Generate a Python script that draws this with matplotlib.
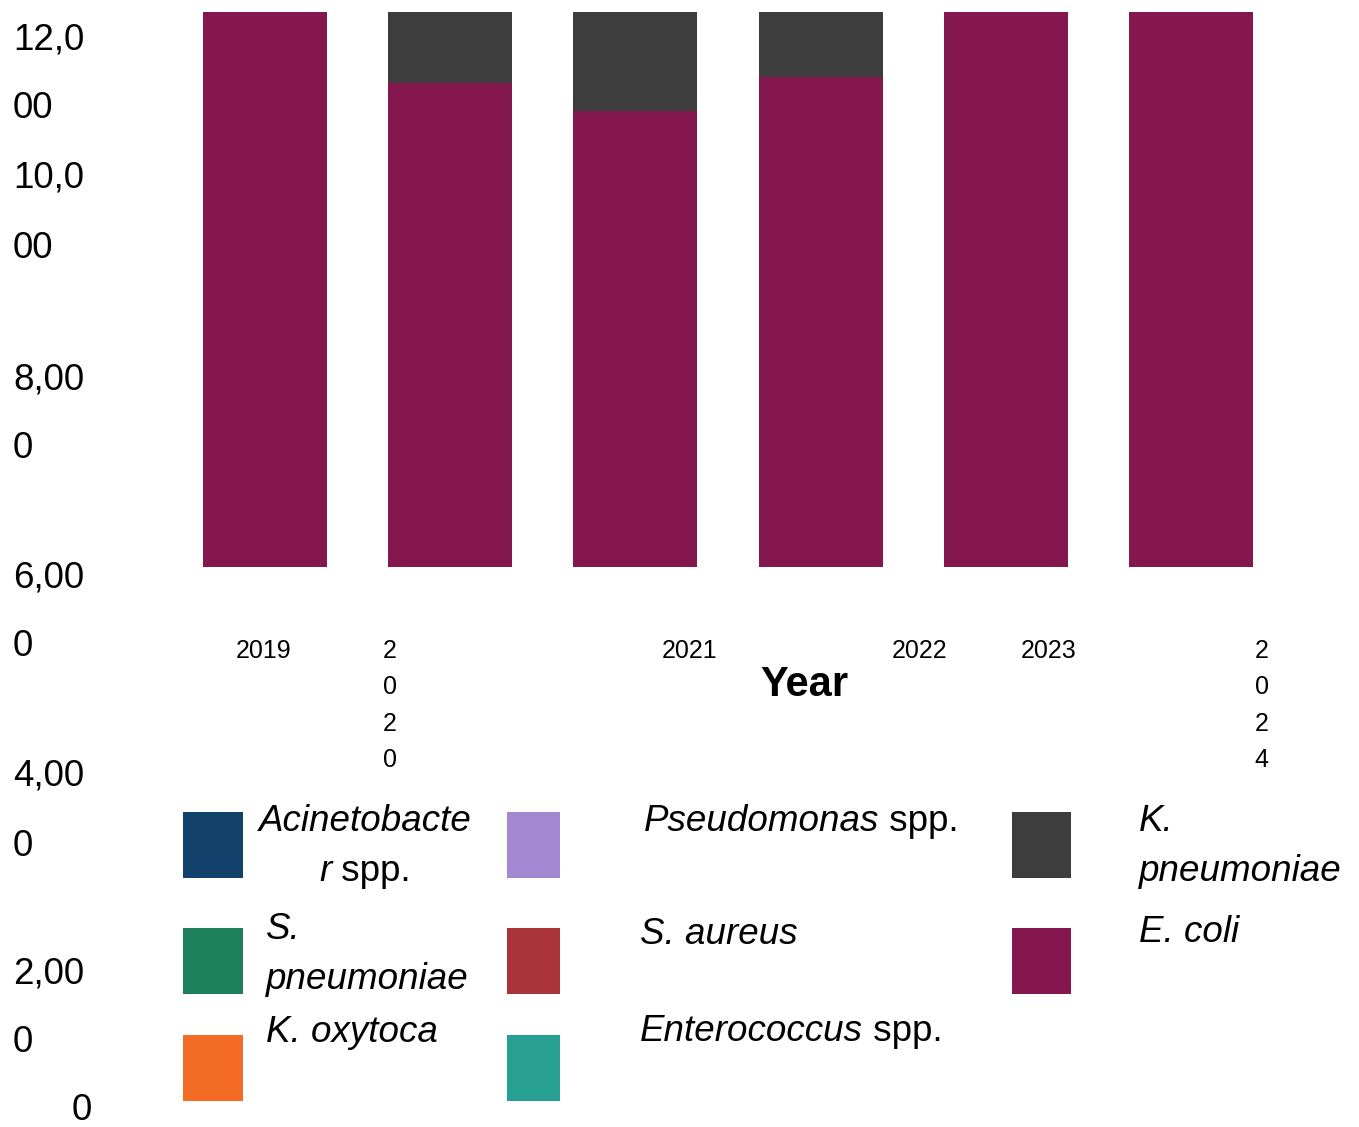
import numpy as np
import matplotlib
matplotlib.use('Agg')
import matplotlib.pyplot as plt
from matplotlib.patches import Rectangle

plt.rcParams['font.family'] = ['Liberation Sans', 'DejaVu Sans']

# data
years = ['2019', '2020', '2021', '2022', '2023', '2024']
e_coli = [12600, 10465, 9860, 10595, 12600, 12600]
k_pneumoniae = [1500, 2100, 2700, 1900, 1400, 1300]
acinetobacter = [0, 0, 0, 0, 0, 0]
pseudomonas = [0, 0, 0, 0, 0, 0]
s_pneumoniae = [0, 0, 0, 0, 0, 0]
s_aureus = [0, 0, 0, 0, 0, 0]
k_oxytoca = [0, 0, 0, 0, 0, 0]
enterococcus = [0, 0, 0, 0, 0, 0]

ytick_values = [12000, 10000, 8000, 6000, 4000, 2000, 0]

# legend order (column by column): wrapped label lines as (text, style) parts, colour, series
legend_items = [
    ([[('Acinetobacte', 'italic')], [('r', 'italic'), (' spp.', 'normal')]], '#12416b', acinetobacter),
    ([[('S.', 'italic')], [('pneumoniae', 'italic')]], '#1e7f5c', s_pneumoniae),
    ([[('K. oxytoca', 'italic')]], '#f46b25', k_oxytoca),
    ([[('Pseudomonas', 'italic'), (' spp.', 'normal')]], '#a387d0', pseudomonas),
    ([[('S. aureus', 'italic')]], '#ab343a', s_aureus),
    ([[('Enterococcus', 'italic'), (' spp.', 'normal')]], '#279f93', enterococcus),
    ([[('K.', 'italic')], [('pneumoniae', 'italic')]], '#3d3d3d', k_pneumoniae),
    ([[('E. coli', 'italic')]], '#83174e', e_coli),
]

W, H = 1359, 1127
fig = plt.figure(figsize=(W / 100, H / 100), dpi=100)

# bars (top is cut off by the axes, as in the original)
ax = fig.add_axes([203 / W, 1 - 567 / H, 1050 / W, 555 / H])
x = np.arange(len(years))
bottom = np.zeros(len(years))
stack = [7, 6, 0, 3, 1, 4, 2, 5]
for i in stack:
    vals = np.array(legend_items[i][2], dtype=float)
    ax.bar(x, vals, 0.67, bottom=bottom, color=legend_items[i][1], linewidth=0)
    bottom += vals
ax.set_xlim(-0.335, len(years) - 1 + 0.335)
ax.set_ylim(0, 12000)
ax.axis('off')

# overlay in pixel coordinates for the broken-up labels and legend
ov = fig.add_axes([0, 0, 1, 1])
ov.set_xlim(0, W)
ov.set_ylim(H, 0)
ov.axis('off')
renderer = fig.canvas.get_renderer()


def rich(x0, y0, parts, size, ha='left'):
    texts = []
    cx = x0
    for s, style in parts:
        t = ov.text(cx, y0, s, fontsize=size, style=style, va='baseline', ha='left')
        cx += t.get_window_extent(renderer).width
        texts.append(t)
    if ha == 'center':
        shift = (cx - x0) / 2
        for t in texts:
            px, py = t.get_position()
            t.set_position((px - shift, py))


# y tick labels, wrapped every 4 characters
ytick_base = [49, 188, 389, 587, 786, 983, 1120]
for v, yb in zip(ytick_values, ytick_base):
    s = f'{v:,}'
    lines = [s[i:i + 4] for i in range(0, len(s), 4)]
    xl = 13 if len(lines) > 1 else 72
    for k, line in enumerate(lines):
        ov.text(xl, yb + k * 69.5, line, fontsize=26.5, va='baseline', ha='left')

# x tick labels
xtick_cx = [263.5, 389.7, 690, 920, 1049, 1261.5]
wrapped = ['2020', '2024']
for yr, cx in zip(years, xtick_cx):
    lines = list(yr) if yr in wrapped else [yr]
    for k, line in enumerate(lines):
        ov.text(cx, 658 + k * 36.3, line, fontsize=18, va='baseline', ha='center')

ov.text(804, 696, 'Year', fontsize=30, fontweight='bold', va='baseline', ha='center')

# legend
sw_x = [(183, 60), (507, 53), (1012, 59)]
sw_y = [812, 928, 1035]
txt_pos = [
    [(365, 'center', [830.7, 880.7]), (266, 'left', [939, 989]), (266, 'left', [1041.7])],
    [(644, 'left', [830.7]), (640, 'left', [944]), (640, 'left', [1040.7])],
    [(1139, 'left', [830.7, 880.7]), (1139, 'left', [942])],
]
for i, item in enumerate(legend_items):
    col, row = i // 3, i % 3
    sx, sw = sw_x[col]
    ov.add_patch(Rectangle((sx, sw_y[row]), sw, 66, color=item[1], linewidth=0))
    tx, ha, ys = txt_pos[col][row]
    for parts, yb in zip(item[0], ys):
        rich(tx, yb, parts, 26.5, ha=ha)

fig.savefig('out.png', dpi=100)
